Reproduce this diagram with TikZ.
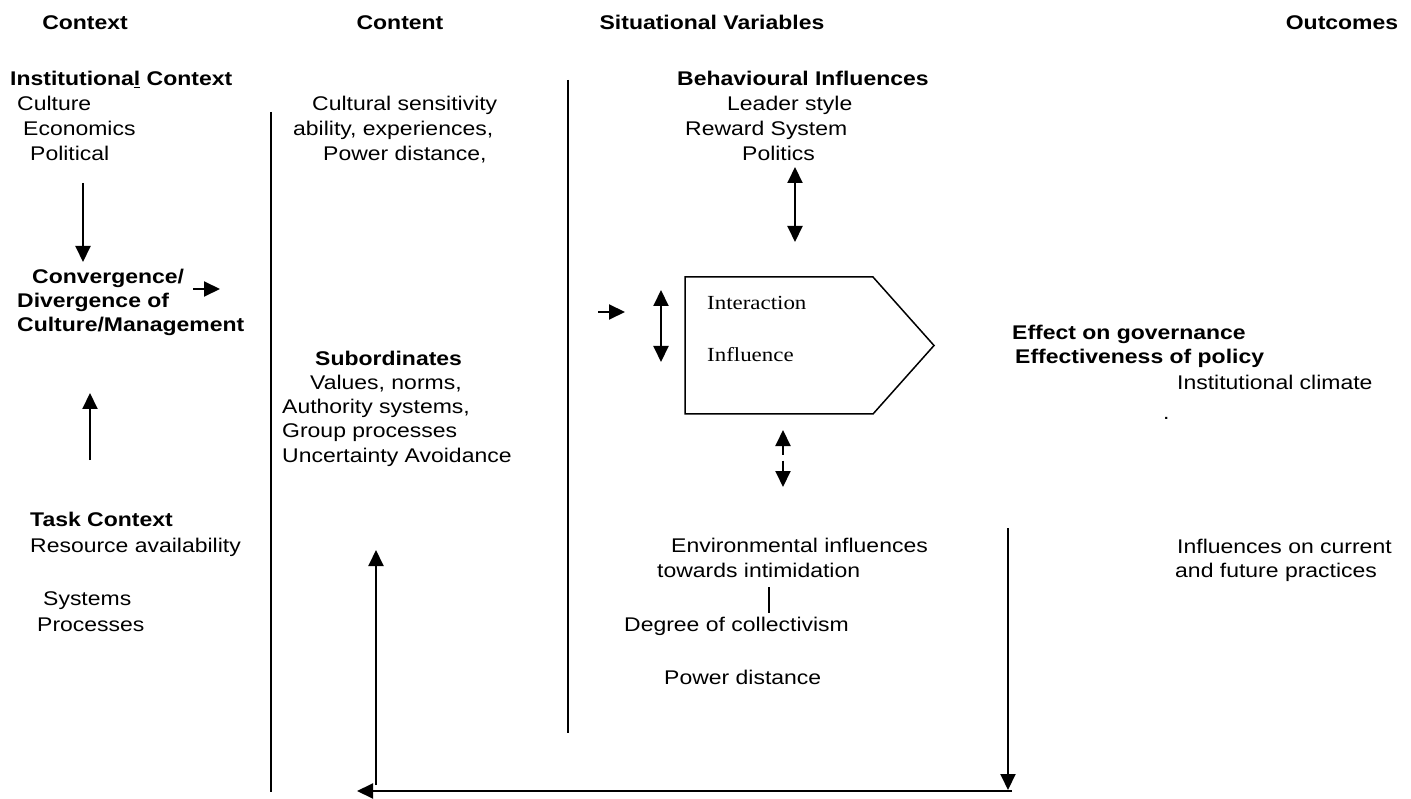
\documentclass[tikz,border=0pt]{standalone}
\usepackage{fontspec}
\setmainfont[FakeStretch=1.16]{Liberation Sans}
\newfontfamily\tmsfont[FakeStretch=1.145]{Liberation Serif}
\usetikzlibrary{arrows.meta}
\begin{document}
\begin{tikzpicture}[x=1pt,y=-1pt,
  lbl/.style={anchor=mid west,inner sep=0pt,yshift=-5pt,font=\fontsize{19.8}{24}\selectfont},
  blbl/.style={anchor=mid west,inner sep=0pt,yshift=-5pt,font=\fontsize{19.8}{24}\selectfont\bfseries},
  hd/.style={anchor=mid,inner sep=0pt,yshift=-5pt,font=\fontsize{19.8}{24}\selectfont\bfseries},
  ser/.style={anchor=mid west,inner sep=0pt,yshift=-4pt,font=\fontsize{20}{24}\selectfont\tmsfont},
  tip/.tip={Triangle[length=16pt,width=15pt]},
  arr/.style={line width=2pt,-tip},
  darr/.style={line width=2pt,tip-tip},
  rulel/.style={line width=1.6pt}]
\useasboundingbox (0,0) rectangle (1411,799);
\fill[white] (0,0) rectangle (1411,799);

% headings
\node[hd] (hctx) at (85,22) {Context};
\node[hd] (hcon) at (400,22) {Content};
\node[hd] (hsit) at (712,22) {Situational Variables};
\node[hd] (hout) at (1342,22) {Outcomes};

% column 1
\node[blbl] (inst) at (10,78) {Institutiona\underline{l} Context};
\node[lbl] (cult) at (17,103) {Culture};
\node[lbl] (econ) at (23,128) {Economics};
\node[lbl] (pol) at (30,153) {Political};
\node[blbl] (conv) at (32,276) {Convergence/};
\node[blbl] (div) at (17,300) {Divergence of};
\node[blbl] (cm) at (17,324) {Culture/Management};
\node[blbl] (task) at (30,519) {Task Context};
\node[lbl] (res) at (30,545) {Resource availability};
\node[lbl] (sys) at (43,598) {Systems};
\node[lbl] (proc) at (37,624) {Processes};

\coordinate (d1a) at (83,183); \coordinate (d1b) at (83,262);
\draw[arr] (d1a) -- (d1b);
\coordinate (c1a) at (193,289); \coordinate (c1b) at (220,289);
\draw[arr] (c1a) -- (c1b);
\coordinate (u1a) at (90,460); \coordinate (u1b) at (90,393);
\draw[arr] (u1a) -- (u1b);

% column 2
\node[lbl] (cs) at (312,103) {Cultural sensitivity};
\node[lbl] (ae) at (293,128) {ability, experiences,};
\node[lbl] (pd1) at (323,153) {Power distance,};
\node[blbl] (sub) at (315,358) {Subordinates};
\node[lbl] (vn) at (310,382) {Values, norms,};
\node[lbl] (as) at (282,406) {Authority systems,};
\node[lbl] (gp) at (282,430) {Group processes};
\node[lbl] (ua) at (282,455) {Uncertainty Avoidance};

% separator lines
\coordinate (l1a) at (271,112); \coordinate (l1b) at (271,792);
\draw[rulel] (l1a) -- (l1b);
\coordinate (l2a) at (568,80); \coordinate (l2b) at (568,733);
\draw[rulel] (l2a) -- (l2b);

% column 3
\node[blbl] (bi) at (677,78) {Behavioural Influences};
\node[lbl] (ls) at (727,103) {Leader style};
\node[lbl] (rs) at (685,128) {Reward System};
\node[lbl] (pol2) at (742,153) {Politics};

\coordinate (t1a) at (795,167); \coordinate (t1b) at (795,242);
\draw[darr] (t1a) -- (t1b);

\coordinate (pA) at (685,277); \coordinate (pB) at (873,277);
\coordinate (pC) at (934,345.5); \coordinate (pD) at (873,414);
\coordinate (pE) at (685,414);
\draw[line width=1.5pt] (pA) -- (pB) -- (pC) -- (pD) -- (pE) -- cycle;
\node[ser] (inter) at (707,303) {Interaction};
\node[ser] (infl) at (707,355) {Influence};

\coordinate (s1a) at (598,312); \coordinate (s1b) at (625,312);
\draw[arr] (s1a) -- (s1b);
\coordinate (v1a) at (661,290); \coordinate (v1b) at (661,362);
\draw[darr] (v1a) -- (v1b);

\coordinate (b1a) at (783,430); \coordinate (b1b) at (783,487);
\draw[darr,dash pattern=on 9pt off 6pt on 12pt off 0pt] (b1a) -- (b1b);

\node[lbl] (env) at (671,545) {Environmental influences};
\node[lbl] (tow) at (657,570) {towards intimidation};
\coordinate (k1a) at (769,587); \coordinate (k1b) at (769,613);
\draw[line width=1.5pt] (k1a) -- (k1b);
\node[lbl] (deg) at (624,624) {Degree of collectivism};
\node[lbl] (pd2) at (664,677) {Power distance};

% column 4
\node[blbl] (eg) at (1012,332) {Effect on governance};
\node[blbl] (eff) at (1015,356) {Effectiveness of policy};
\node[lbl] (ic) at (1177,382) {Institutional climate};
\node[lbl] (dot) at (1163,412) {.};
\node[lbl] (ioc) at (1177,546) {Influences on current};
\node[lbl] (afp) at (1175,570) {and future practices};

% feedback loop
\coordinate (r1a) at (1008,528); \coordinate (r1b) at (1008,790);
\draw[arr] (r1a) -- (r1b);
\coordinate (h1a) at (1012,791); \coordinate (h1b) at (357,791);
\draw[arr] (h1a) -- (h1b);
\coordinate (u2a) at (376,785); \coordinate (u2b) at (376,550);
\draw[arr] (u2a) -- (u2b);
\end{tikzpicture}
\end{document}
